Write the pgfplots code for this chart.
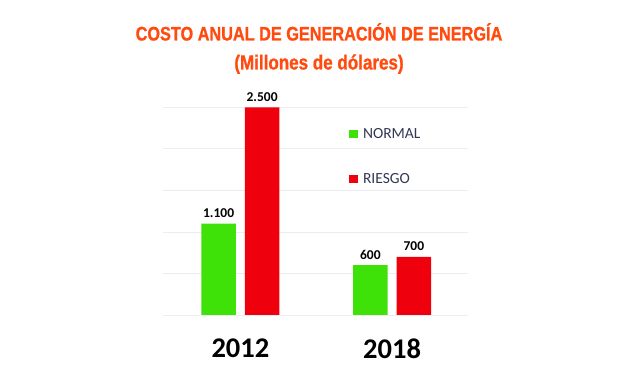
\documentclass[border=0pt]{standalone}
\usepackage{pgfplots}
\pgfplotsset{compat=1.18}
\usepackage{fontspec}
\setmainfont{Carlito}
\newfontfamily\titlefont{Liberation Sans}[FakeStretch=0.83,FakeBold=1]
\definecolor{titlec}{RGB}{255,75,15}
\definecolor{gbar}{RGB}{62,226,8}
\definecolor{rbar}{RGB}{238,0,12}
\definecolor{legc}{RGB}{50,55,85}
\definecolor{gridc}{RGB}{235,237,240}
\begin{document}
\begin{tikzpicture}
\useasboundingbox (0,0) rectangle (640bp,384bp);
\node[anchor=base, inner sep=0pt, text=titlec] at (319bp,343.5bp) {\titlefont\bfseries\fontsize{19.6bp}{22bp}\selectfont COSTO ANUAL DE GENERACIÓN DE ENERGÍA};
\node[anchor=base, inner sep=0pt, text=titlec] at (319bp,314.5bp) {\titlefont\bfseries\fontsize{20.5bp}{24bp}\selectfont (Millones de dólares)};
\begin{axis}[
  at={(163bp,69bp)}, anchor=south west,
  scale only axis, width=305bp, height=207.7bp,
  ybar=9bp, bar width=34.5bp,
  xmin=-0.51, xmax=1.5, ymin=0, ymax=2500,
  ytick={0,500,1000,1500,2000,2500}, yticklabels={},
  ymajorgrids, grid style={color=gridc, line width=0.8pt},
  axis line style={draw=none},
  major tick length=0pt,
  xtick={0,1}, xticklabels={2012,2018},
  xticklabel style={font=\bfseries\fontsize{28.5bp}{30bp}\selectfont, inner sep=0pt, anchor=north, yshift=-23.7bp},
  /pgf/number format/assume math mode=true,
  /pgf/number format/1000 sep={.},
  nodes near coords,
  every node near coord/.append style={font=\bfseries\fontsize{13.5bp}{15bp}\selectfont, anchor=base, inner sep=0pt, yshift=6bp, text=black},
  legend image code/.code={\fill[#1] (0bp,-4.25bp) rectangle (9bp,4.25bp);},
  legend style={draw=none, fill=none, at={(0.610,0.763)}, anchor=west, inner sep=0pt, outer sep=0pt,
    row sep=33.5bp, column sep=5bp, font=\fontsize{15.5bp}{17bp}\selectfont, text=legc, nodes={inner sep=0pt}},
  legend cell align=left,
]
\addplot[fill=gbar, draw=none] coordinates {(0,1100) (1,600)};
\addplot[fill=rbar, draw=none] coordinates {(0,2500) (1,700)};
\legend{NORMAL, RIESGO}
\end{axis}
\end{tikzpicture}
\end{document}
